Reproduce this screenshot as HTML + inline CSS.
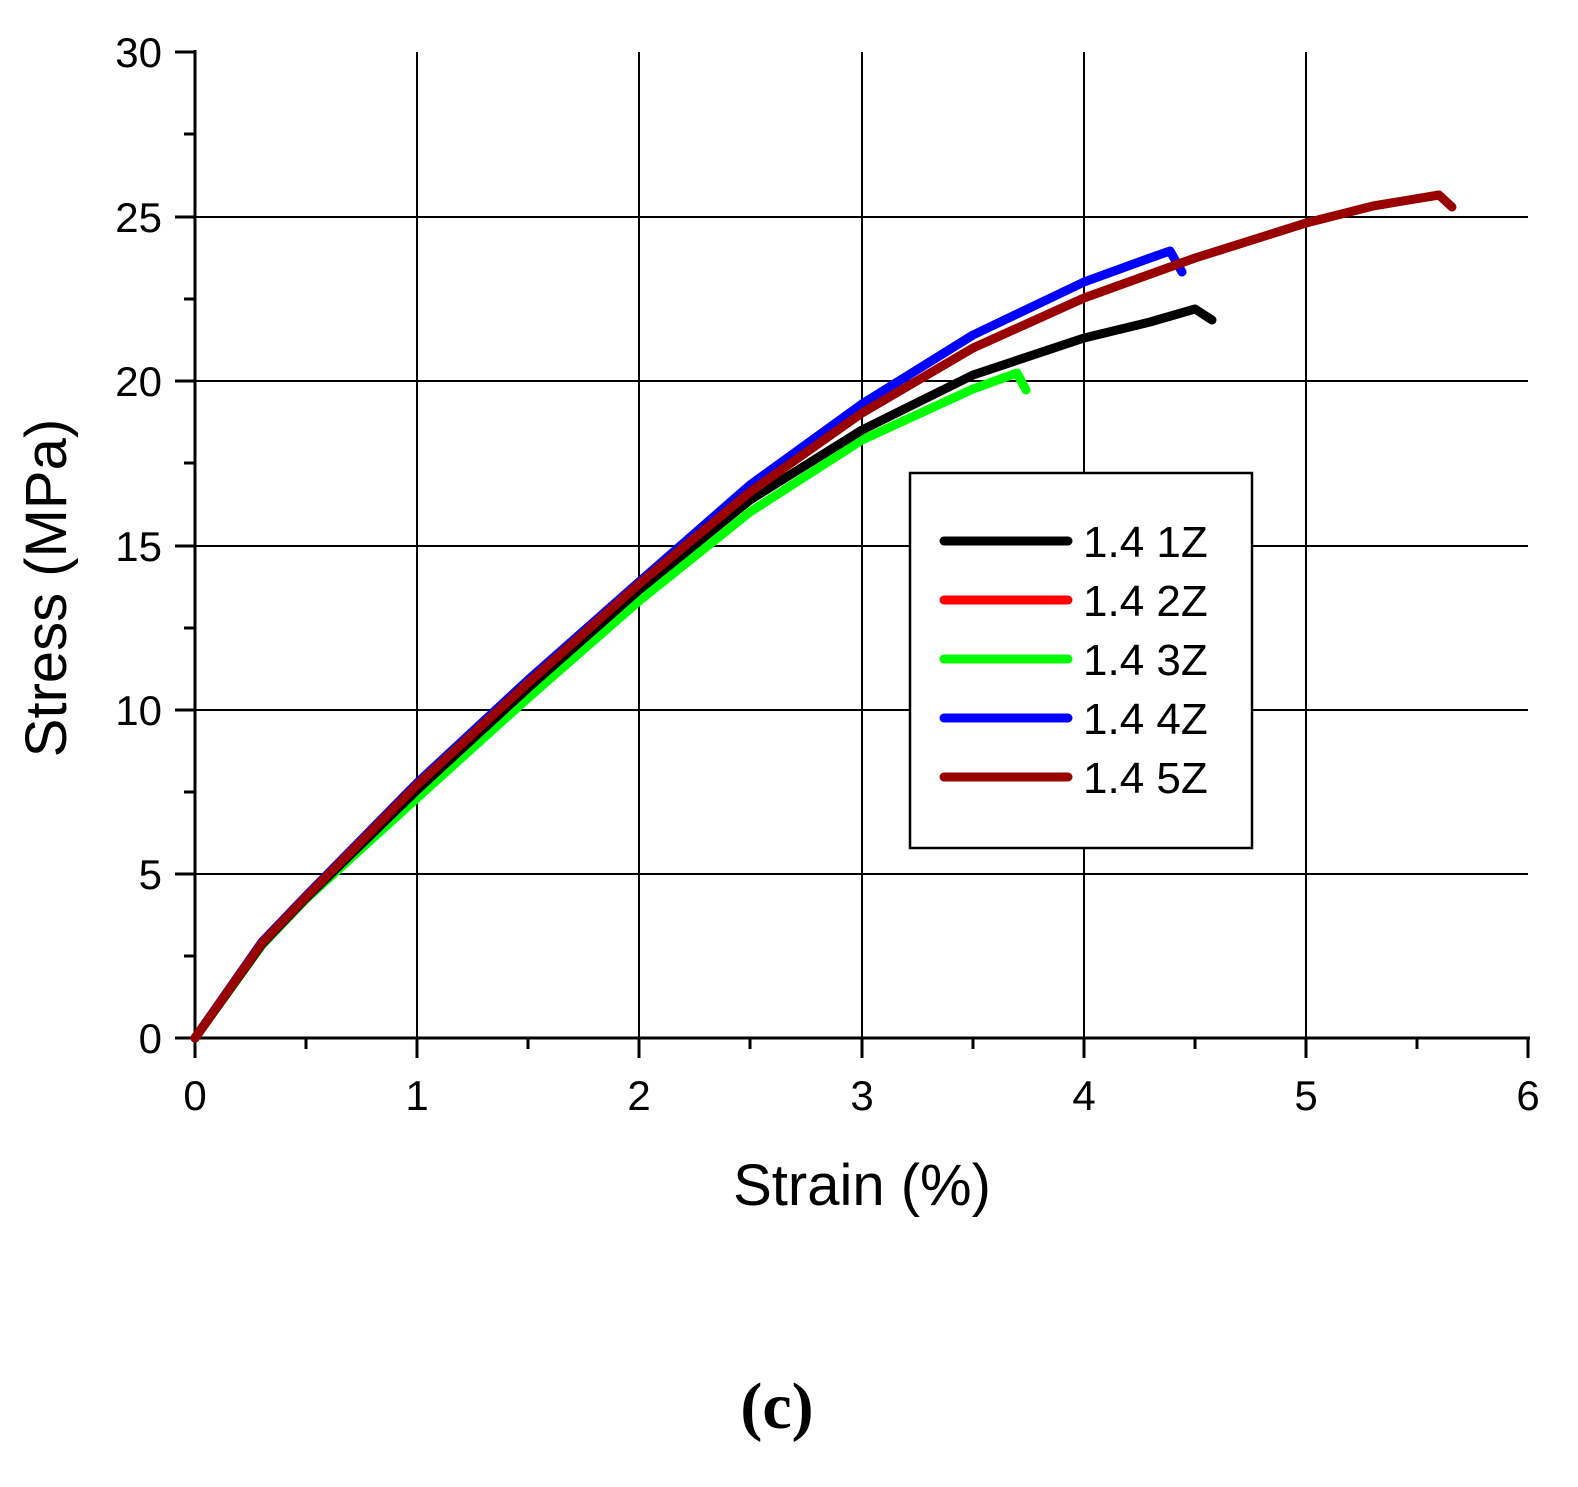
<!DOCTYPE html>
<html><head><style>body{margin:0;background:#fff}</style></head><body>
<svg width="1578" height="1482" xmlns="http://www.w3.org/2000/svg" font-family="Liberation Sans, sans-serif">
<rect width="1578" height="1482" fill="#fff"/>
<g stroke="#000" stroke-width="2">
<line x1="417" y1="52" x2="417" y2="1038"/><line x1="639" y1="52" x2="639" y2="1038"/><line x1="862" y1="52" x2="862" y2="1038"/><line x1="1084" y1="52" x2="1084" y2="1038"/><line x1="1306" y1="52" x2="1306" y2="1038"/>
<line x1="195" y1="217" x2="1528" y2="217"/><line x1="195" y1="381" x2="1528" y2="381"/><line x1="195" y1="546" x2="1528" y2="546"/><line x1="195" y1="710" x2="1528" y2="710"/><line x1="195" y1="874" x2="1528" y2="874"/>
</g>
<g stroke="#000" stroke-width="3">
<line x1="195" y1="50" x2="195" y2="1040"/><line x1="193" y1="1038" x2="1530" y2="1038"/>
<line x1="1528" y1="1038" x2="1528" y2="1058"/>
<line x1="195" y1="1038" x2="195" y2="1058"/><line x1="417" y1="1038" x2="417" y2="1058"/><line x1="639" y1="1038" x2="639" y2="1058"/><line x1="862" y1="1038" x2="862" y2="1058"/><line x1="1084" y1="1038" x2="1084" y2="1058"/><line x1="1306" y1="1038" x2="1306" y2="1058"/>
<line x1="306" y1="1038" x2="306" y2="1049"/><line x1="528" y1="1038" x2="528" y2="1049"/><line x1="750" y1="1038" x2="750" y2="1049"/><line x1="973" y1="1038" x2="973" y2="1049"/><line x1="1195" y1="1038" x2="1195" y2="1049"/><line x1="1417" y1="1038" x2="1417" y2="1049"/>
<line x1="175" y1="52" x2="195" y2="52"/><line x1="175" y1="217" x2="195" y2="217"/><line x1="175" y1="381" x2="195" y2="381"/><line x1="175" y1="546" x2="195" y2="546"/><line x1="175" y1="710" x2="195" y2="710"/><line x1="175" y1="874" x2="195" y2="874"/><line x1="175" y1="1038" x2="195" y2="1038"/>
<line x1="184" y1="134" x2="195" y2="134"/><line x1="184" y1="299" x2="195" y2="299"/><line x1="184" y1="463" x2="195" y2="463"/><line x1="184" y1="628" x2="195" y2="628"/><line x1="184" y1="792" x2="195" y2="792"/><line x1="184" y1="956" x2="195" y2="956"/>
</g>
<g font-size="42" text-anchor="end">
<text x="162" y="67">30</text><text x="162" y="232">25</text><text x="162" y="396">20</text><text x="162" y="561">15</text><text x="162" y="725">10</text><text x="162" y="889">5</text><text x="162" y="1053">0</text>
</g>
<g font-size="42" text-anchor="middle">
<text x="195" y="1110">0</text><text x="417" y="1110">1</text><text x="639" y="1110">2</text><text x="862" y="1110">3</text><text x="1084" y="1110">4</text><text x="1306" y="1110">5</text><text x="1528" y="1110">6</text>
</g>
<text x="862" y="1205" font-size="58" text-anchor="middle">Strain (%)</text>
<text transform="translate(66,588) rotate(-90)" font-size="58" text-anchor="middle">Stress (MPa)</text>
<text x="777" y="1428" font-size="66" font-weight="bold" font-family="Liberation Serif, serif" text-anchor="middle">(c)</text>
<g fill="none" stroke-width="9" stroke-linecap="round" stroke-linejoin="round">
<polyline stroke="#00ff00" points="195,1038 262,945 306,899 417,798 528,698 639,601 750,512 862,440 973,389 1017,373 1026,390"/>
<polyline stroke="#000" points="195,1038 262,944 306,898 417,790 528,688 639,590 750,500 862,430 973,375 1084,338 1150,322 1195,309 1212,320"/>
<polyline stroke="#0000ff" points="195,1038 262,942 306,896 417,783 528,680 639,582 750,485 862,404 973,335 1084,282 1150,258 1170,251 1182,272"/>
<polyline stroke="#990000" points="195,1038 262,943 306,897 417,785 528,683 639,584 750,492 862,413 973,348 1084,298 1195,258 1306,223 1373,206 1439,195 1452,207"/>
</g>
<rect x="910" y="473" width="342" height="375" fill="#fff" stroke="#000" stroke-width="2.5"/>
<g stroke-width="9" stroke-linecap="round">
<line x1="944" y1="541" x2="1068" y2="541" stroke="#000"/>
<line x1="944" y1="600" x2="1068" y2="600" stroke="#ff0000"/>
<line x1="944" y1="659" x2="1068" y2="659" stroke="#00ff00"/>
<line x1="944" y1="718" x2="1068" y2="718" stroke="#0000ff"/>
<line x1="944" y1="777" x2="1068" y2="777" stroke="#990000"/>
</g>
<g font-size="44">
<text x="1083" y="557">1.4 1Z</text><text x="1083" y="616">1.4 2Z</text><text x="1083" y="675">1.4 3Z</text><text x="1083" y="734">1.4 4Z</text><text x="1083" y="793">1.4 5Z</text>
</g>
</svg>
</body></html>
